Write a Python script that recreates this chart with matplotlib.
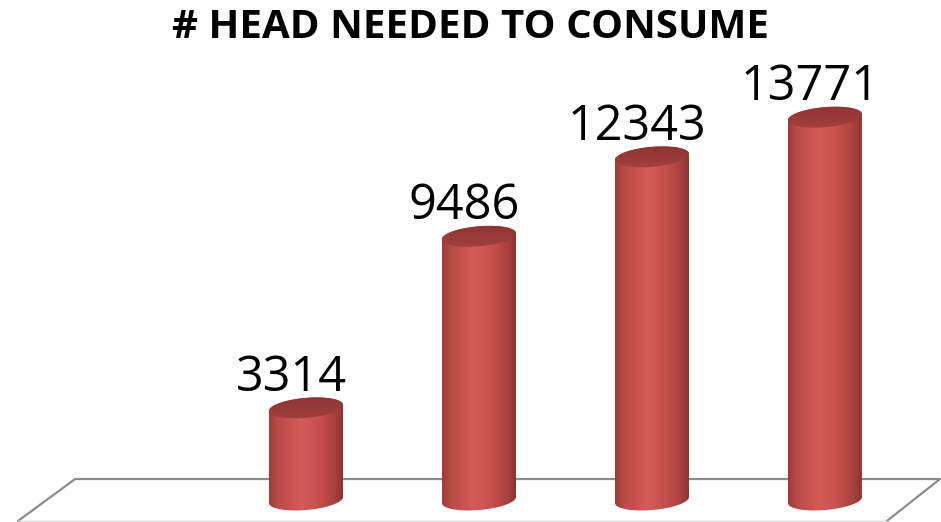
import numpy as np
import matplotlib
matplotlib.use("Agg")
import matplotlib.pyplot as plt
from matplotlib.patches import Polygon
from matplotlib.colors import LinearSegmentedColormap

# ---- data ----
categories = ["A", "B", "C", "D"]
values = [3314, 9486, 12343, 13771]
labels = ["3314", "9486", "12343", "13771"]
title = "# HEAD NEEDED TO CONSUME"

plt.rcParams['font.family'] = ['Open Sans', 'DejaVu Sans']

fig = plt.figure(figsize=(9.41, 5.22), dpi=100)
ax = fig.add_axes([0, 0, 1, 1])
ax.set_xlim(-1.769, 3.671)
ax.set_ylim(-791, 17986)
ax.axis('off')

# floor
floor = Polygon([(-1.335, 755), (3.665, 755), (3.358, -755), (-1.665, -755)],
                closed=True, facecolor='white', edgecolor='none', zorder=1)
ax.add_patch(floor)
ax.plot([-1.665, -1.335, 3.665, 3.358], [-755, 755, 755, -755],
        color='#8C8C8C', lw=1.6, zorder=2, solid_capstyle='round')
ax.plot([-1.665, 3.358], [-745, -745], color='#DADADA', lw=1.0, zorder=2)

body_cmap = LinearSegmentedColormap.from_list('body', [
    (0.0, '#9C3C3A'), (0.12, '#BB4A48'), (0.42, '#D45B59'),
    (0.68, '#C64F4D'), (0.88, '#A7403E'), (1.0, '#8A3230')])
top_cmap = LinearSegmentedColormap.from_list('top', [
    (0.0, '#A6403E'), (0.5, '#963A38'), (1.0, '#8B3432')])

a = 0.214      # half width (category units)
b = 360        # ellipse half-height (value units)
k = 108        # tilt (value units at right edge)

t = np.linspace(0, 2 * np.pi, 200)

for i, (v, lab) in enumerate(zip(values, labels)):
    cx = i
    tb = np.linspace(np.pi, 2 * np.pi, 100)
    xb = cx + a * np.cos(tb)
    yb = 0 + b * np.sin(tb) + k * np.cos(tb)
    tt = np.linspace(0, np.pi, 100)
    xt = cx + a * np.cos(tt)
    yt = v + b * np.sin(tt) + k * np.cos(tt)
    body = Polygon(np.column_stack([np.concatenate([xb, xt]),
                                    np.concatenate([yb, yt])]),
                   closed=True, facecolor='none', edgecolor='none', zorder=3)
    ax.add_patch(body)
    grad = np.linspace(0, 1, 256).reshape(1, -1)
    im = ax.imshow(grad, cmap=body_cmap, aspect='auto',
                   extent=[cx - a, cx + a, -b - k, v + b + k],
                   zorder=3, interpolation='bicubic')
    im.set_clip_path(body)

    xe = cx + a * np.cos(t)
    ye = v + b * np.sin(t) + k * np.cos(t)
    top = Polygon(np.column_stack([xe, ye]), closed=True,
                  facecolor='none', edgecolor='none', zorder=4)
    ax.add_patch(top)
    gy = np.linspace(0, 1, 64).reshape(-1, 1)
    im2 = ax.imshow(gy, cmap=top_cmap, aspect='auto',
                    extent=[cx - a, cx + a, v - b - k, v + b + k],
                    origin='lower', zorder=4, interpolation='bicubic')
    im2.set_clip_path(top)

    ax.text(cx - 0.087, v + 611, lab, ha='center', va='baseline',
            fontsize=35, color='black', zorder=5)

ax.text(0.5, 1 - 28 / 522, title, transform=ax.transAxes, ha='center',
        va='center', fontsize=29, fontweight='bold', color='black')

fig.savefig('out.png', dpi=100)
